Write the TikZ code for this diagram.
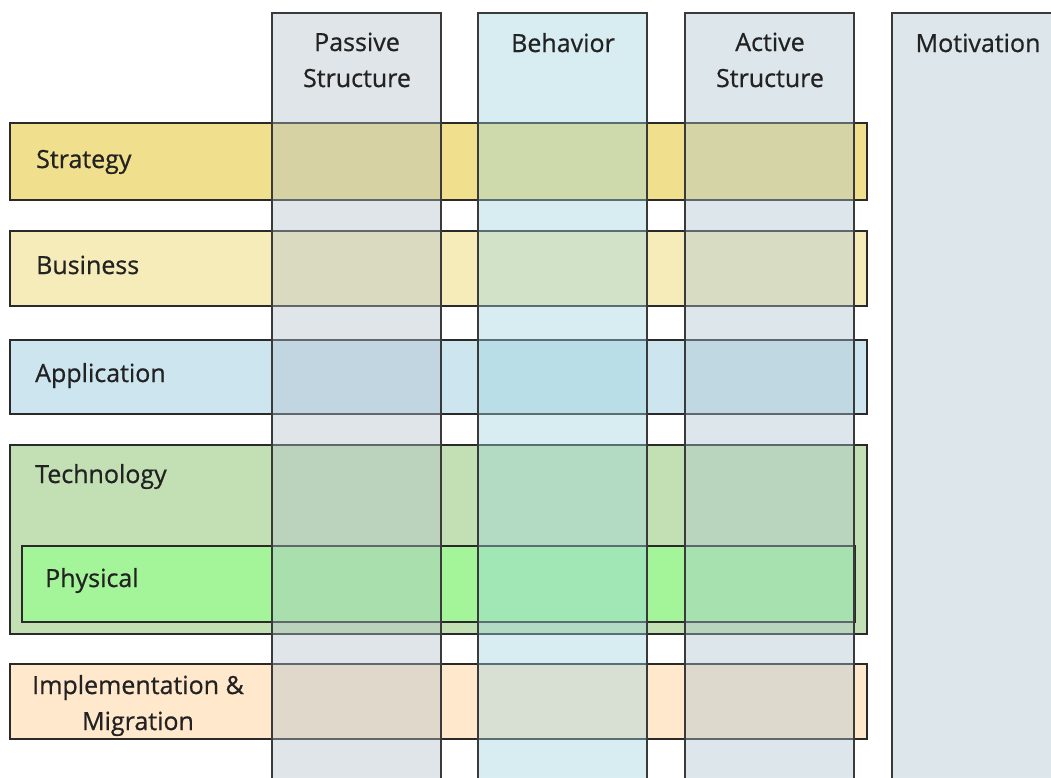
\documentclass[tikz,border=0pt]{standalone}
\usepackage{fontspec}
\setmainfont{Open Sans}
\newfontfamily\lblfont[FakeBold=0.7]{Open Sans}
\definecolor{strat}{HTML}{F0DF8C}
\definecolor{busi}{HTML}{F5ECBA}
\definecolor{appl}{HTML}{CCE5EF}
\definecolor{tech}{HTML}{C2E0B4}
\definecolor{phys}{HTML}{A4F59A}
\definecolor{impl}{HTML}{FFE8CC}
\definecolor{passc}{HTML}{B1C0CA}
\definecolor{behc}{HTML}{9DD4DE}
\definecolor{actc}{HTML}{ACC5CF}
\definecolor{edge}{HTML}{2A2A2A}
\definecolor{cedge}{HTML}{3A3A3A}
\definecolor{txt}{HTML}{222222}
\tikzset{
  rowbox/.style={draw=edge, line width=1.8pt, anchor=north west, inner sep=0pt, outer sep=0pt},
  colbox/.style={draw=cedge, line width=1.8pt, fill opacity=0.4, anchor=north west, inner sep=0pt, outer sep=0pt, minimum width=169pt, minimum height=820pt},
  lbl/.style={text=txt, font=\lblfont\fontsize{25}{36}\selectfont, inner sep=0pt, align=center},
}
\begin{document}
\begin{tikzpicture}[x=1pt,y=-1pt]
\useasboundingbox (0,0) rectangle (1051,777);
\clip (0,0) rectangle (1051,777);
\fill[white] (0,0) rectangle (1051,777);
% rows
\node[rowbox, fill=strat, minimum width=857pt, minimum height=77pt] (strategy) at (10,123) {};
\node[rowbox, fill=busi, minimum width=857pt, minimum height=75pt] (business) at (10,231) {};
\node[rowbox, fill=appl, minimum width=857pt, minimum height=74pt] (application) at (10,340) {};
\node[rowbox, fill=tech, minimum width=857pt, minimum height=189pt] (technology) at (10,445) {};
\node[rowbox, fill=phys, minimum width=833pt, minimum height=76pt] (physical) at (22,546) {};
\node[rowbox, fill=impl, minimum width=857pt, minimum height=75pt] (implementation) at (10,664) {};
% columns
\node[colbox, fill=passc] (passive) at (272,13) {};
\node[colbox, fill=behc] (behavior) at (478,13) {};
\node[colbox, fill=actc] (active) at (685,13) {};
\node[colbox, fill=actc] (motivation) at (892,13) {};
% row labels
\node[lbl, anchor=base west] (tstrategy) at (36,168) {Strategy};
\node[lbl, anchor=base west] (tbusiness) at (36,274) {Business};
\node[lbl, anchor=base west] (tapplication) at (35,382) {Application};
\node[lbl, anchor=base west] (ttechnology) at (35,483) {Technology};
\node[lbl, anchor=base west] (tphysical) at (45,587) {Physical};
\node[lbl, anchor=base] (timplementation) at (138,730) {Implementation \&\\Migration};
% column labels
\node[lbl, anchor=base] (tpassive) at (357,87) {Passive\\Structure};
\node[lbl, anchor=base] (tbehavior) at (563,52) {Behavior};
\node[lbl, anchor=base] (tactive) at (770,87) {Active\\Structure};
\node[lbl, anchor=base] (tmotivation) at (978,52) {Motivation};
\end{tikzpicture}
\end{document}
